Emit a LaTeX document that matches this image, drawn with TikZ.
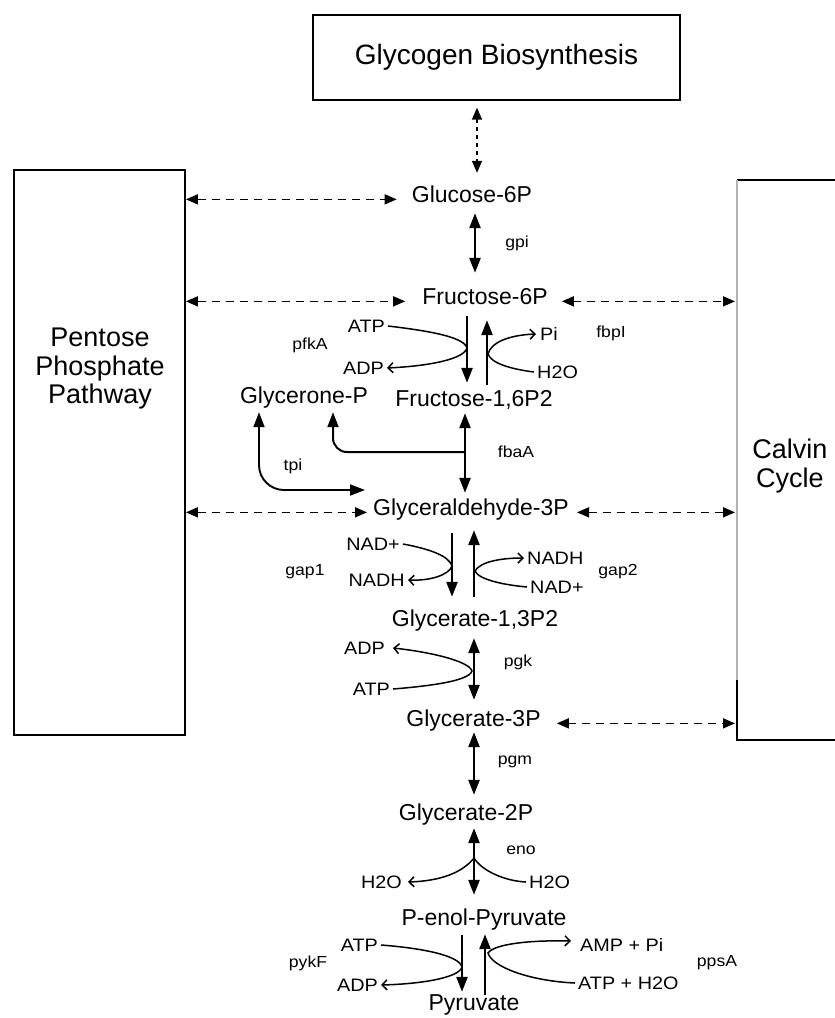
\documentclass[tikz,border=0pt]{standalone}
\usepackage{fontspec}
\setmainfont{Liberation Sans}
\newfontfamily\lblfont[FakeStretch=1.1]{Liberation Sans}
\usetikzlibrary{arrows.meta,calc}
\begin{document}
\begin{tikzpicture}[x=1pt,y=-1pt,
  met/.style={inner sep=0pt, text height=16pt, text depth=5pt, anchor=base, font=\fontsize{23}{27}\selectfont},
  lbl/.style={inner sep=0pt, font=\lblfont\fontsize{18}{21}\selectfont},
  enz/.style={inner sep=0pt, font=\lblfont\fontsize{16}{19}\selectfont},
  bigtxt/.style={inner sep=0pt, align=center, font=\fontsize{27}{28.5}\selectfont},
  mainline/.style={line width=2.5pt},
  dbl/.style={mainline, {Triangle[length=15pt,width=11pt]}-{Triangle[length=15pt,width=11pt]}},
  sgl/.style={mainline, -{Triangle[length=15pt,width=11pt]}},
  dsh/.style={line width=1.6pt, dash pattern=on 8pt off 6pt, {Triangle[length=12pt,width=10pt]}-{Triangle[length=12pt,width=10pt]}},
  cof/.style={line width=1.5pt},
  cofarr/.style={cof, -{Straight Barb[length=5pt,width=10pt]}},
]
\useasboundingbox (0,0) rectangle (835,1018);
\fill[white] (0,0) rectangle (835,1018);

% boxes
\node[draw, line width=1.3pt, minimum width=367pt, minimum height=85pt, inner sep=0pt, font=\fontsize{28}{30}\selectfont] (glyc) at (496.5,57.5) {Glycogen Biosynthesis};
\node[draw, line width=1.8pt, minimum width=171pt, minimum height=565pt, inner sep=0pt] (ppp) at (99.5,452.5) {};
\node[bigtxt] (ppptxt) at (100,369) {Pentose\\Phosphate\\Pathway};

\coordinate (calTL) at (737,180);
\coordinate (calBL) at (737,740);
\coordinate (calTR) at (835,180);
\coordinate (calBR) at (835,740);
\coordinate (calMid) at (737,680);
\draw[line width=1.5pt] (calTR) -- (calTL);
\draw[line width=1.2pt, gray!60] (calTL) -- (calMid);
\draw[line width=1.6pt] (calMid) -- (calBL) -- (calBR);
\node[bigtxt] (caltxt) at (790,466) {Calvin\\Cycle};

% metabolites
\node[met] (g6p) at (472,202) {Glucose-6P};
\node[met] (f6p) at (485,304) {Fructose-6P};
\node[met] (f16) at (474,406) {Fructose-1,6P2};
\node[met] (dhap) at (304,403) {Glycerone-P};
\node[met] (gap) at (471,515) {Glyceraldehyde-3P};
\node[met] (bpg) at (475,626) {Glycerate-1,3P2};
\node[met] (g3p) at (473.5,726) {Glycerate-3P};
\node[met] (g2p) at (466,820) {Glycerate-2P};
\node[met] (pep) at (484,925) {P-enol-Pyruvate};
\node[met] (pyr) at (474,1010) {Pyruvate};

% columns
\coordinate (xA) at (475,0);
\coordinate (xF1) at (467,0);
\coordinate (xF2) at (487,0);
\coordinate (xB) at (465,0);
\coordinate (xG1) at (452,0);
\coordinate (xG2) at (474,0);
\coordinate (xK) at (474,0);
\coordinate (xP1) at (462,0);
\coordinate (xP2) at (485,0);
\coordinate (xGly) at (477,0);

% dashed exchanges
\draw[dsh, dash pattern=on 4pt off 4pt, shorten <=7pt, shorten >=13pt] (glyc.south -| xGly) -- (g6p.north -| xGly);
\draw[dsh, shorten >=15pt] (ppp.east |- g6p.mid) -- (g6p.mid west);
\draw[dsh, shorten >=17pt] (ppp.east |- f6p.mid) -- (f6p.mid west);
\draw[dsh, shorten <=14pt, shorten >=2pt] (f6p.mid east) -- (calTL |- f6p.mid);
\draw[dsh, shorten >=6pt] (ppp.east |- gap.mid) -- (gap.mid west);
\draw[dsh, shorten <=8pt, shorten >=2pt] (gap.mid east) -- (calTL |- gap.mid);
\draw[dsh, shorten <=16pt, shorten >=2pt] (g3p.mid east) -- (calTL |- g3p.mid);

% gpi
\draw[dbl, shorten <=6pt, shorten >=15pt] (g6p.south -| xA) -- (f6p.north -| xA);
\node[enz] (gpi) at (517,243) {gpi};

% pfkA / fbpI
\draw[sgl, shorten <=7pt, shorten >=7pt] (f6p.south -| xF1) -- (f16.north -| xF1);
\draw[sgl, shorten <=5pt, shorten >=11pt] (f16.north -| xF2) -- (f6p.south -| xF2);
\node[lbl, anchor=east] (atp1) at (385,326) {ATP};
\node[lbl, anchor=east] (adp1) at (384,368) {ADP};
\node[lbl, anchor=west] (pi1) at (540,334) {Pi};
\node[lbl, anchor=west] (wat1) at (537,372) {H2O};
\node[enz] (pfkA) at (310,345) {pfkA};
\node[enz] (fbpI) at (611,333) {fbpI};
\coordinate (t1) at (467,348);
\coordinate (t2) at (488,354);
\draw[cofarr] ([xshift=3pt]atp1.east) .. controls (430,331) and (464,337) .. (t1) .. controls (464,359) and (430,366) .. ([xshift=3pt]adp1.east);
\draw[cofarr] ([xshift=-3pt]wat1.west) .. controls (510,369) and (491,363) .. (t2) .. controls (491,342) and (510,335) .. ([xshift=-4pt]pi1.west);

% fbaA
\draw[dbl, shorten <=2pt, shorten >=6pt] (f16.south -| xB) -- (gap.north -| xB);
\path (f16.south -| xB) -- (gap.north -| xB) coordinate[pos=0.466] (fbj);
\draw[sgl, line width=2pt, rounded corners=14pt, shorten >=4pt] (fbj) -| ([xshift=29pt]dhap.south);
\node[enz] (fbaA) at (516,452) {fbaA};

% tpi
\draw[dbl, line width=1.9pt, rounded corners=25pt] ([xshift=-45pt,yshift=-4pt]dhap.south) |- ([xshift=-8pt,yshift=19.5pt]gap.west);
\node[enz] (tpi) at (293,466) {tpi};

% gap1 / gap2
\draw[sgl, shorten <=13pt, shorten >=13pt] (gap.south -| xG1) -- (bpg.north -| xG1);
\draw[sgl, shorten <=13pt, shorten >=10pt] (bpg.north -| xG2) -- (gap.south -| xG2);
\node[lbl, anchor=east] (nad1) at (400,544) {NAD+};
\node[lbl, anchor=east] (nadh1) at (405,580) {NADH};
\node[lbl, anchor=west] (nadh2) at (527,558) {NADH};
\node[lbl, anchor=west] (nad2) at (530,587) {NAD+};
\node[enz] (gap1) at (305,572) {gap1};
\node[enz] (gap2) at (618,572) {gap2};
\coordinate (t3) at (452,566);
\coordinate (t4) at (475,571);
\draw[cofarr] ([xshift=3pt]nad1.east) .. controls (430,549) and (449,556) .. (t3) .. controls (449,575) and (430,581) .. ([xshift=3pt]nadh1.east);
\draw[cofarr] ([xshift=-3pt]nad2.west) .. controls (505,585) and (479,580) .. (t4) .. controls (480,562) and (500,558) .. ([xshift=-3pt]nadh2.west);

% pgk
\draw[dbl, shorten <=7pt, shorten >=10pt] (bpg.south -| xK) -- (g3p.north -| xK);
\node[lbl, anchor=east] (adp2) at (385,648) {ADP};
\node[lbl, anchor=east] (atp2) at (390,689) {ATP};
\node[enz] (pgk) at (518,662) {pgk};
\coordinate (t5) at (472,671);
\draw[cofarr] ([xshift=3pt]atp2.east) .. controls (430,686) and (469,681) .. (t5) .. controls (469,661) and (430,652) .. ([xshift=8pt]adp2.east);

% pgm
\draw[dbl, shorten <=1pt, shorten >=9pt] (g3p.south -| xK) -- (g2p.north -| xK);
\node[enz] (pgm) at (515,762) {pgm};

% eno
\draw[dbl, shorten <=3pt, shorten >=14pt] (g2p.south -| xK) -- (pep.north -| xK);
\node[enz] (eno) at (521,850) {eno};
\node[lbl, anchor=east] (wat2) at (402,882) {H2O};
\node[lbl, anchor=west] (wat3) at (529,882) {H2O};
\coordinate (t6) at (474,858);
\draw[cofarr] (t6) .. controls (462,873) and (440,881) .. ([xshift=6pt]wat2.east);
\draw[cof] ([xshift=-3pt]wat3.west) .. controls (505,881) and (482,871) .. (t6);

% pykF / ppsA
\draw[sgl, shorten <=5pt, shorten >=2pt] (pep.south -| xP1) -- (pyr.north -| xP1);
\draw[sgl, shorten <=-1pt, shorten >=4pt] (pyr.north -| xP2) -- (pep.south -| xP2);
\node[lbl, anchor=east] (atp3) at (378,945) {ATP};
\node[lbl, anchor=east] (adp3) at (378,985) {ADP};
\node[lbl, anchor=west] (amp) at (580,945) {AMP + Pi};
\node[lbl, anchor=west] (atpw) at (578,983) {ATP + H2O};
\node[enz] (pykF) at (308,963) {pykF};
\node[enz] (ppsA) at (717,963) {ppsA};
\coordinate (t7) at (462,967);
\coordinate (t8) at (488,953);
\draw[cofarr] ([xshift=3pt]atp3.east) .. controls (420,948) and (459,955) .. (t7) .. controls (459,978) and (420,984) .. ([xshift=3pt]adp3.east);
\draw[cofarr] ([xshift=-3pt]atpw.west) .. controls (530,981) and (492,967) .. (t8) .. controls (494,944) and (530,940) .. ([xshift=-9pt,yshift=4pt]amp.west);
\end{tikzpicture}
\end{document}
